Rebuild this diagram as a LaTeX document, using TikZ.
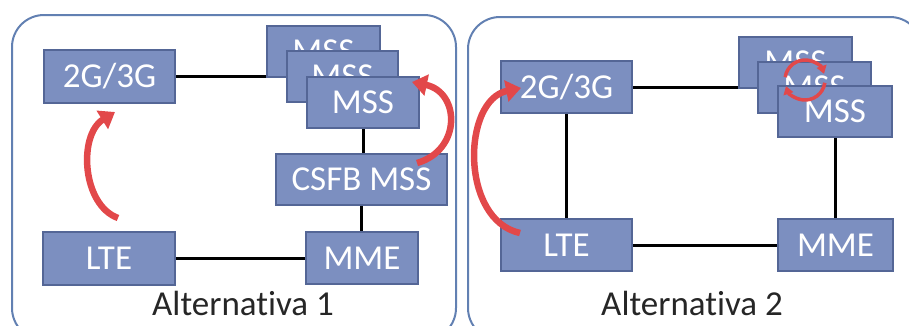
\documentclass[tikz,border=0pt]{standalone}
\usepackage{fontspec}
\setmainfont{Carlito}[RawFeature={-liga;-clig}]
\usetikzlibrary{arrows.meta}
\definecolor{boxfill}{RGB}{124,143,192}
\definecolor{boxedge}{RGB}{84,102,150}
\definecolor{paneledge}{RGB}{98,128,178}
\definecolor{redarrow}{RGB}{226,72,74}
\begin{document}
\begin{tikzpicture}[x=1pt,y=1pt,
  netbox/.style={draw=boxedge,line width=2pt,fill=boxfill,text=white,inner sep=0pt,
    font=\fontsize{35}{38}\selectfont},
  panel/.style={draw=paneledge,line width=2pt,rounded corners=32pt},
  link/.style={draw=black,line width=3pt},
  bigarrow/.style={draw=redarrow,line width=6.5pt,-{Triangle[length=15pt,width=21pt]}},
  rotarrow/.style={draw=redarrow,line width=3.5pt,-{Triangle[length=8pt,width=10pt]}},
  title/.style={text=black!85,font=\fontsize{35}{38}\selectfont}]
\useasboundingbox (0,0) rectangle (909,-325);
% panels
\draw[panel] (12,-15) rectangle (456,-340);
\draw[panel] (468,-17) rectangle (922,-340);
\node[title] (t1) at (243,-303) {Alternativa 1};
\node[title] (t2) at (692,-303) {Alternativa 2};
% ---- Alternativa 1
\node[netbox,minimum width=131pt,minimum height=53pt] (g1) at (109.5,-76.5) {2G/3G};
\node[netbox,minimum width=132pt,minimum height=53pt] (lte1) at (109,-258) {LTE};
\node[netbox,minimum width=112pt,minimum height=52pt] (mme1) at (362,-258) {MME};
\node[netbox,minimum width=171pt,minimum height=51pt] (csfb) at (361.5,-179.5) {CSFB MSS};
\draw[link] (g1.east) -- (287,-76.5) coordinate (mssBw);
\node[netbox,minimum width=113pt,minimum height=51pt] (mssA1) at (323.5,-51.5) {MSS};
\node[netbox,minimum width=111pt,minimum height=51pt] (mssB1) at (342.5,-76.5) {MSS};
\node[netbox,minimum width=112pt,minimum height=51pt] (mssC1) at (363,-102.5) {MSS};
\draw[link] (mssC1.south) -- (mssC1.south |- csfb.north);
\draw[link] (csfb.south) -- (csfb.south |- mme1.north);
\draw[link] (lte1.east) -- (mme1.west);
\draw[bigarrow] (118,-218) .. controls (82,-205) and (78,-135) .. (115,-112);
\draw[bigarrow] (417,-163) .. controls (462,-150) and (460,-92) .. (412,-82);
% ---- Alternativa 2
\node[netbox,minimum width=131pt,minimum height=52pt] (g2) at (566.5,-87) {2G/3G};
\node[netbox,minimum width=131pt,minimum height=52pt] (lte2) at (566.5,-245) {LTE};
\node[netbox,minimum width=115pt,minimum height=52pt] (mme2) at (835.5,-245) {MME};
\draw[link] (g2.east) -- (758,-87);
\draw[link] (g2.south) -- (lte2.north);
\draw[link] (lte2.east) -- (mme2.west);
\node[netbox,minimum width=113pt,minimum height=51pt] (mssA2) at (795.5,-62.5) {MSS};
\node[netbox,minimum width=113pt,minimum height=51pt] (mssB2) at (814.5,-87.5) {MSS};
\node[netbox,minimum width=114pt,minimum height=51pt] (mssC2) at (835,-111.5) {MSS};
\draw[link] (mssC2.south) -- (mssC2.south |- mme2.north);
\draw[bigarrow] (520,-233) .. controls (460,-220) and (462,-100) .. (521,-88);
% rotation symbol
\coordinate (rc) at (805,-80);
\draw[rotarrow] ([shift={(172:20pt)}]rc) arc[start angle=172,end angle=18,radius=20pt];
\draw[rotarrow] ([shift={(-8:20pt)}]rc) arc[start angle=-8,end angle=-162,radius=20pt];
\end{tikzpicture}
\end{document}
